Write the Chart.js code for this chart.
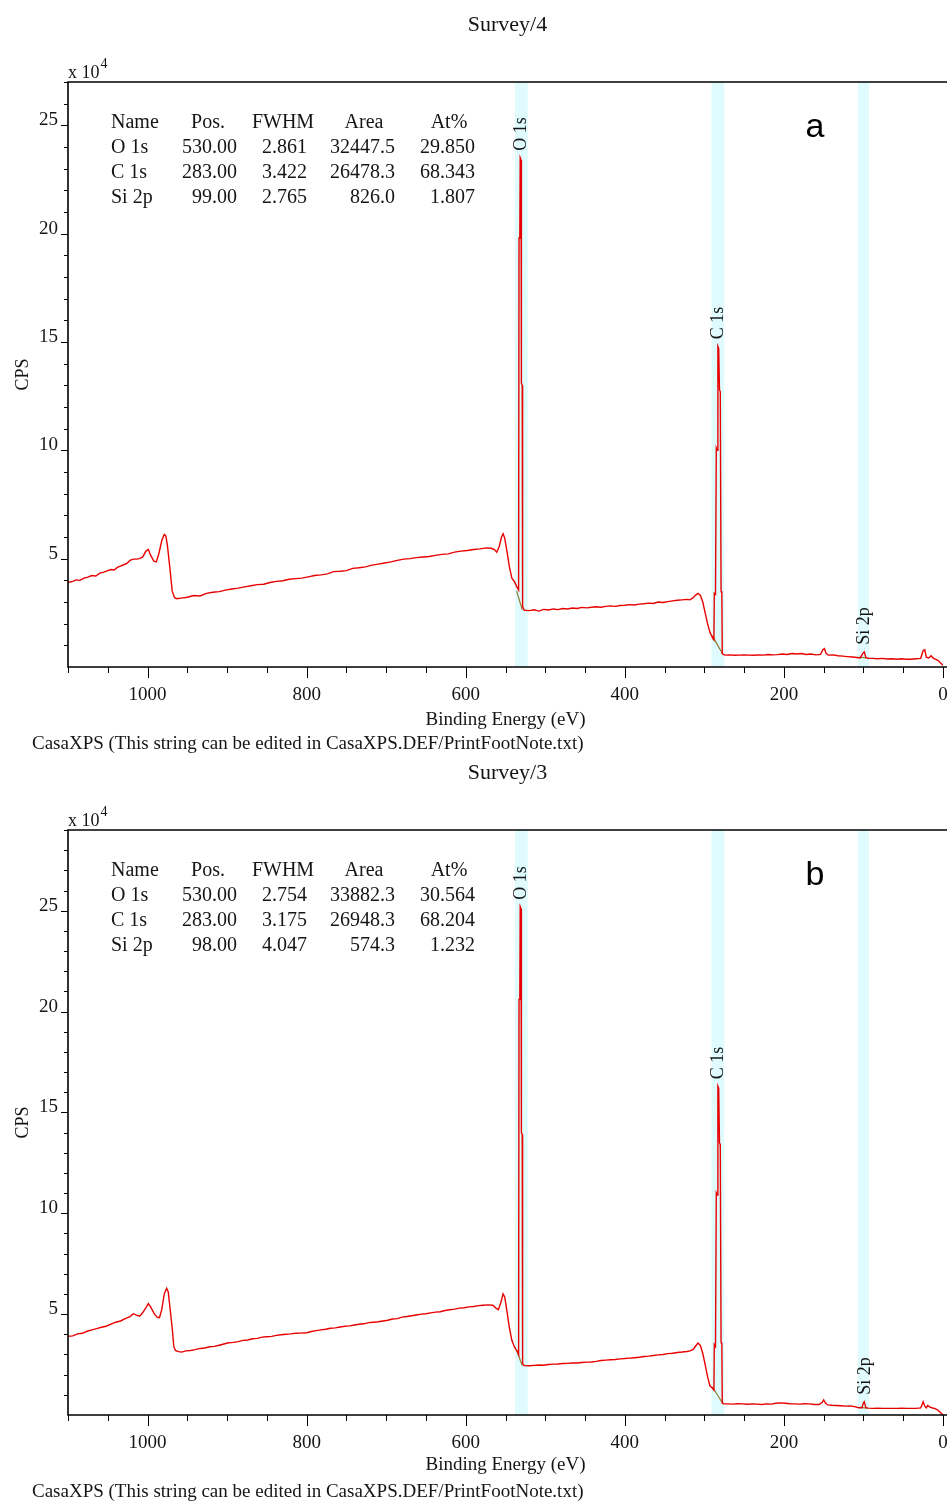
<!DOCTYPE html>
<html>
<head>
<meta charset="utf-8">
<script src="https://cdn.jsdelivr.net/npm/chart.js@4/dist/chart.umd.min.js"></script>
<style>
  body { margin: 0; background: #fff; }
  canvas { display: block; }
</style>
</head>
<body>
<canvas id="chartA" width="947" height="756"></canvas>
<canvas id="chartB" width="947" height="745"></canvas>
<script>
// ---- espectro a (Survey/4), cuentas en unidades de 10^4 CPS ----
const energiaA = [1100,1094,1090,1085,1080,1075,1070,1065,1060,1055,1050,1046,1042,1038,1034,1030,1026,1022,1018,1014,1010,1006,1002,999,996,992,989,986,982,979,977,975,972,969,966,963,
  958,950,942,934,926,918,910,902,894,886,878,870,862,854,846,838,830,822,814,806,798,790,782,774,766,758,750,742,734,726,718,710,702,694,686,678,670,662,654,646,638,630,622,614,606,598,590,582,574,568,564,561,558,555,553,551,548,545,542,539,537,535,
  533.5,533,532,531.5,530.5,530,529,528.5,527,
  526,520,514,508,502,496,490,484,478,472,466,460,454,448,442,436,430,424,418,412,406,400,394,388,382,376,370,364,358,352,346,340,334,328,322,318,314,311,308,305,302,299,296,293,291,289,288,
  287.5,286,285,284,283,282,281,280,279,278,277.5,276,
  274,268,262,256,250,244,238,232,226,220,214,208,202,196,190,184,178,172,166,160,154,151,149,147,144,138,132,126,120,114,108,104,101,99,97,94,88,82,76,70,64,58,52,46,40,34,28,25,23,21,18,15,12,9,6,3,0];
const cuentasA = [3.90,3.95,4.02,4.00,4.10,4.15,4.22,4.20,4.33,4.38,4.45,4.50,4.48,4.60,4.66,4.72,4.78,4.92,4.98,4.98,5.00,5.08,5.35,5.42,5.15,4.88,4.85,5.20,5.85,6.12,6.05,5.60,4.60,3.50,3.20,3.15,
  3.18,3.22,3.30,3.28,3.40,3.45,3.48,3.55,3.60,3.64,3.70,3.75,3.80,3.82,3.90,3.95,3.98,4.05,4.08,4.10,4.16,4.22,4.25,4.30,4.40,4.42,4.45,4.55,4.58,4.62,4.70,4.75,4.80,4.85,4.92,4.98,5.00,5.05,5.08,5.10,5.15,5.20,5.22,5.30,5.35,5.38,5.42,5.45,5.50,5.48,5.42,5.30,5.55,6.00,6.15,5.95,5.30,4.60,4.10,3.95,3.80,3.65,
  3.55,19.8,19.9,23.5,23.4,13.1,13.0,2.80,2.65,
  2.62,2.60,2.64,2.58,2.66,2.63,2.68,2.65,2.70,2.68,2.72,2.70,2.75,2.73,2.76,2.78,2.76,2.80,2.82,2.80,2.84,2.85,2.88,2.86,2.90,2.92,2.95,2.93,3.00,2.98,3.02,3.05,3.08,3.10,3.12,3.10,3.20,3.32,3.40,3.30,3.00,2.50,2.00,1.60,1.45,1.30,1.25,
  3.40,3.35,10.1,10.0,14.8,14.7,12.8,12.7,3.50,3.40,0.62,0.58,
  0.55,0.56,0.54,0.55,0.56,0.55,0.54,0.56,0.55,0.58,0.56,0.57,0.60,0.58,0.62,0.60,0.62,0.58,0.60,0.56,0.58,0.80,0.85,0.62,0.55,0.56,0.52,0.50,0.48,0.46,0.44,0.42,0.62,0.70,0.44,0.40,0.40,0.38,0.40,0.37,0.38,0.36,0.38,0.36,0.36,0.38,0.40,0.75,0.80,0.45,0.42,0.52,0.40,0.35,0.30,0.18,0.08];

// ---- espectro b (Survey/3) ----
const energiaB = [1100,1094,1088,1082,1076,1070,1064,1058,1052,1046,1040,1034,1028,1022,1018,1014,1010,1006,1002,999,996,992,988,985,982,979,976,974,972,969,967,965,961,957,
  952,946,940,934,928,922,916,910,904,898,892,886,880,874,868,862,856,850,844,838,832,826,820,814,808,800,794,788,782,776,770,764,758,752,746,740,734,728,722,716,710,704,698,692,686,680,674,668,662,656,650,644,638,632,626,620,614,608,602,596,590,584,578,572,566,562,559,556,553,551,548,545,542,539,537,535,
  533.5,533,532,531.5,530.5,530,529,528.5,527,
  526,520,514,508,502,496,490,484,478,472,466,460,454,448,442,436,430,424,418,412,406,400,394,388,382,376,370,364,358,352,346,340,334,328,322,318,314,311,308,305,302,299,296,293,291,289,288,
  287.5,286,285,284,283,282,281,280,279,278,277.5,276,
  270,264,258,252,246,240,234,228,222,216,210,204,198,192,186,180,174,168,162,156,152,150,148,145,140,134,128,122,116,110,106,102,100,99,97,94,88,82,76,70,64,58,52,46,40,34,28,26,25,23,21,19,17,14,10,7,4,1,0];
const cuentasB = [3.90,3.92,4.02,4.05,4.15,4.22,4.28,4.35,4.40,4.50,4.60,4.66,4.78,4.88,5.02,4.95,4.90,5.08,5.32,5.52,5.35,5.05,4.85,4.82,5.25,6.00,6.28,6.10,5.40,4.30,3.40,3.20,3.14,3.12,
  3.18,3.20,3.24,3.30,3.32,3.38,3.40,3.46,3.52,3.58,3.60,3.64,3.70,3.72,3.78,3.80,3.86,3.88,3.90,3.95,3.98,4.00,4.02,4.05,4.06,4.08,4.14,4.18,4.22,4.25,4.30,4.32,4.36,4.40,4.42,4.46,4.50,4.52,4.58,4.60,4.62,4.66,4.70,4.76,4.78,4.85,4.88,4.92,4.96,5.00,5.02,5.06,5.10,5.12,5.18,5.22,5.25,5.30,5.32,5.36,5.38,5.42,5.44,5.46,5.44,5.30,5.22,5.55,6.00,5.85,5.10,4.30,3.70,3.40,3.25,3.15,
  3.00,20.6,20.7,25.2,25.1,14.0,13.9,2.55,2.46,
  2.45,2.44,2.46,2.48,2.47,2.50,2.52,2.53,2.55,2.56,2.58,2.58,2.60,2.62,2.63,2.66,2.70,2.72,2.74,2.75,2.78,2.80,2.82,2.84,2.86,2.90,2.92,2.95,2.98,3.00,3.04,3.06,3.10,3.12,3.15,3.18,3.25,3.42,3.57,3.45,3.05,2.50,1.90,1.45,1.38,1.28,1.24,
  3.50,3.40,11.0,10.9,16.3,16.2,13.5,13.4,3.60,3.50,0.60,0.56,
  0.55,0.54,0.56,0.55,0.53,0.55,0.54,0.52,0.55,0.54,0.58,0.60,0.58,0.56,0.55,0.54,0.56,0.55,0.52,0.52,0.62,0.75,0.60,0.50,0.48,0.47,0.46,0.44,0.45,0.40,0.36,0.36,0.60,0.66,0.36,0.34,0.33,0.34,0.33,0.33,0.33,0.33,0.34,0.33,0.33,0.33,0.35,0.55,0.66,0.45,0.36,0.48,0.40,0.36,0.32,0.26,0.15,0.04,0.02];

// lineas de fondo (Shirley) bajo cada pico
const fondoEnergiaA = [[536, 529], [290, 277], [106, 95]];
const fondoCuentasA = [[3.50, 2.65], [1.45, 0.60], [0.45, 0.42]];
const fondoEnergiaB = [[536, 529], [290, 277], [105, 95]];
const fondoCuentasB = [[3.20, 2.46], [1.40, 0.58], [0.38, 0.34]];

// regiones de integracion (eV)
const bandas = [[538, 522], [291, 275], [107, 93]];

// tabla de cuantificacion
const nombresPico = ['O 1s', 'C 1s', 'Si 2p'];
const posA = ['530.00', '283.00', '99.00'];
const fwhmA = ['2.861', '3.422', '2.765'];
const areaA = ['32447.5', '26478.3', '826.0'];
const atA = ['29.850', '68.343', '1.807'];
const posB = ['530.00', '283.00', '98.00'];
const fwhmB = ['2.754', '3.175', '4.047'];
const areaB = ['33882.3', '26948.3', '574.3'];
const atB = ['30.564', '68.204', '1.232'];

// posiciones de las etiquetas de pico
const picosA = [530, 283, 99];
const picosB = [530, 283, 98];

const fuente = "'Liberation Serif', 'Times New Roman', serif";
const fuenteSans = "'Liberation Sans', Arial, sans-serif";
const tinta = '#151515';

const textoPlugin = {
  id: 'textoCasa',
  beforeDatasetsDraw(chart, args, o) {
    const { ctx, chartArea, scales: { x } } = chart;
    ctx.save();
    ctx.fillStyle = '#e0fbfd';
    o.bandas.forEach(([a, b]) => {
      const x1 = x.getPixelForValue(a);
      const x2 = x.getPixelForValue(b);
      ctx.fillRect(x1, chartArea.top, x2 - x1, chartArea.bottom - chartArea.top);
    });
    ctx.restore();
  },
  afterDraw(chart, args, o) {
    const { ctx, chartArea: { left, top, bottom }, scales: { x, y } } = chart;
    const ancho = chart.width;
    ctx.save();

    // ticks mayores y menores
    ctx.strokeStyle = '#000';
    ctx.lineWidth = 1;
    ctx.beginPath();
    x.ticks.forEach(t => {
      const px = Math.round(x.getPixelForValue(t.value)) + 0.5;
      const largo = t.value % 200 === 0 ? 11 : 6;
      ctx.moveTo(px, bottom);
      ctx.lineTo(px, bottom + largo);
    });
    y.ticks.forEach(t => {
      if (t.value === 0) return;
      const py = Math.round(y.getPixelForValue(t.value)) + 0.5;
      const largo = t.value % 5 === 0 ? 7 : 4;
      ctx.moveTo(left, py);
      ctx.lineTo(left - largo, py);
    });
    ctx.stroke();

    // marco
    ctx.lineWidth = 1.6;
    ctx.beginPath();
    ctx.moveTo(ancho, top);
    ctx.lineTo(left, top);
    ctx.lineTo(left, bottom);
    ctx.lineTo(ancho, bottom);
    ctx.stroke();

    ctx.fillStyle = tinta;

    // titulo
    ctx.font = `22px ${fuente}`;
    ctx.textAlign = 'center';
    ctx.textBaseline = 'middle';
    ctx.fillText(o.titulo, (left + ancho) / 2, top - 57);

    // x 10^4
    ctx.textAlign = 'left';
    ctx.font = `18px ${fuente}`;
    ctx.fillText('x 10', left, top - 9);
    const w = ctx.measureText('x 10').width;
    ctx.font = `14px ${fuente}`;
    ctx.fillText('4', left + w + 1, top - 18);

    // tabla
    ctx.font = `20px ${fuente}`;
    const fila0 = top + 41;
    ctx.textAlign = 'left';
    ctx.fillText('Name', 111, fila0);
    ctx.textAlign = 'center';
    ctx.fillText('Pos.', 208, fila0);
    ctx.fillText('FWHM', 283, fila0);
    ctx.fillText('Area', 364, fila0);
    ctx.fillText('At%', 449, fila0);
    o.nombres.forEach((n, i) => {
      const fy = fila0 + 25 * (i + 1);
      ctx.textAlign = 'left';
      ctx.fillText(n, 111, fy);
      ctx.textAlign = 'right';
      ctx.fillText(o.pos[i], 237, fy);
      ctx.fillText(o.fwhm[i], 307, fy);
      ctx.fillText(o.area[i], 395, fy);
      ctx.fillText(o.at[i], 475, fy);
    });

    // etiquetas de picos, verticales sobre cada pico
    const puntos = chart.data.datasets[0].data;
    ctx.font = `18px ${fuente}`;
    o.picos.forEach((e, i) => {
      let alto = 0;
      puntos.forEach(p => {
        if (Math.abs(p.x - e) <= 4 && p.y > alto) alto = p.y;
      });
      const px = x.getPixelForValue(e);
      const py = y.getPixelForValue(alto) - 7;
      ctx.save();
      ctx.translate(px, py);
      ctx.rotate(-Math.PI / 2);
      ctx.textAlign = 'left';
      ctx.textBaseline = 'middle';
      ctx.fillText(o.nombres[i], 0, 0);
      ctx.restore();
    });

    // letra del panel
    ctx.font = `34px ${fuenteSans}`;
    ctx.fillStyle = '#000';
    ctx.textAlign = 'center';
    ctx.textBaseline = 'alphabetic';
    ctx.fillText(o.letra, 815, top + 55);

    // pie de pagina
    ctx.fillStyle = tinta;
    ctx.font = `19px ${fuente}`;
    ctx.textAlign = 'left';
    ctx.textBaseline = 'middle';
    ctx.fillText('CasaXPS (This string can be edited in CasaXPS.DEF/PrintFootNote.txt)', 32, bottom + 77);

    ctx.restore();
  }
};

const crearGrafico = (id, energia, cuentas, fondoE, fondoC, yMax, padArriba, altoEjeX, textos) => {
  const datasets = [{
    data: energia.map((e, i) => ({ x: e, y: cuentas[i] })),
    borderColor: '#e80000',
    borderWidth: 1.4,
    pointRadius: 0,
    tension: 0
  }];
  fondoE.forEach((seg, k) => {
    datasets.push({
      data: seg.map((e, i) => ({ x: e, y: fondoC[k][i] })),
      borderColor: '#8c7a2c',
      borderWidth: 1.2,
      pointRadius: 0,
      tension: 0
    });
  });

  return new Chart(document.getElementById(id), {
    type: 'line',
    data: { datasets },
    options: {
      responsive: false,
      animation: false,
      events: [],
      layout: { padding: { top: padArriba, left: 0, right: 4, bottom: 0 } },
      plugins: {
        legend: { display: false },
        tooltip: { enabled: false },
        textoCasa: textos
      },
      scales: {
        x: {
          type: 'linear',
          reverse: true,
          min: 0,
          max: 1100,
          grid: { display: false, drawTicks: false },
          border: { display: false },
          ticks: {
            stepSize: 50,
            maxTicksLimit: 100,
            autoSkip: false,
            maxRotation: 0,
            padding: 17,
            color: tinta,
            font: { family: fuente, size: 19 },
            callback: v => v % 200 === 0 ? v : ''
          },
          title: {
            display: true,
            text: 'Binding Energy (eV)',
            color: tinta,
            font: { family: fuente, size: 19 },
            padding: { top: 0, bottom: 25 }
          },
          afterFit: s => {
            s.height = altoEjeX;
            s.paddingLeft = 0;
            s.paddingRight = 0;
          }
        },
        y: {
          min: 0,
          max: yMax,
          grid: { display: false, drawTicks: false },
          border: { display: false },
          ticks: {
            stepSize: 1,
            maxTicksLimit: 100,
            autoSkip: false,
            padding: 10,
            labelOffset: -5,
            color: tinta,
            font: { family: fuente, size: 19 },
            callback: v => (v > 0 && v % 5 === 0) ? v : ''
          },
          title: {
            display: true,
            text: 'CPS',
            color: tinta,
            font: { family: fuente, size: 18 },
            padding: { top: 12, bottom: 0 }
          },
          afterFit: s => { s.width = 68; }
        }
      }
    },
    plugins: [textoPlugin]
  });
};

crearGrafico('chartA', energiaA, cuentasA, fondoEnergiaA, fondoCuentasA, 27, 82, 89, {
  titulo: 'Survey/4', letra: 'a', bandas,
  nombres: nombresPico, pos: posA, fwhm: fwhmA, area: areaA, at: atA, picos: picosA
});

crearGrafico('chartB', energiaB, cuentasB, fondoEnergiaB, fondoCuentasB, 29, 74, 86, {
  titulo: 'Survey/3', letra: 'b', bandas,
  nombres: nombresPico, pos: posB, fwhm: fwhmB, area: areaB, at: atB, picos: picosB
});
</script>
</body>
</html>
